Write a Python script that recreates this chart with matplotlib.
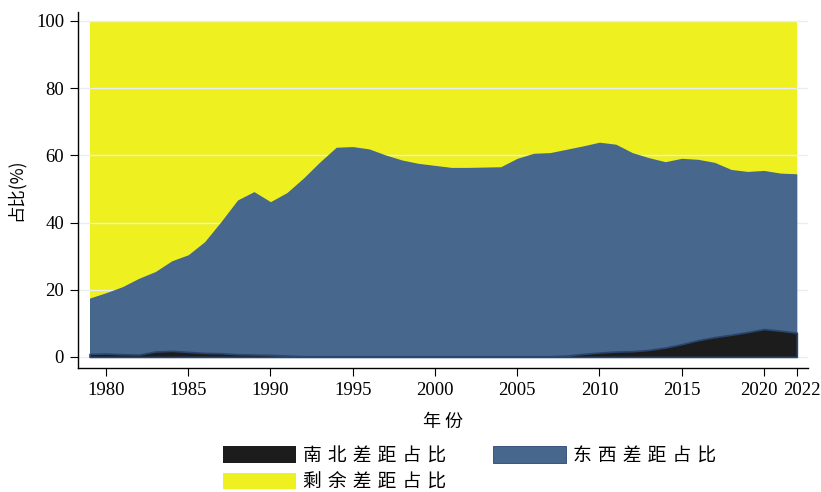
import numpy as np
import matplotlib
matplotlib.use('Agg')
import matplotlib.pyplot as plt
import matplotlib.transforms as mtransforms
from matplotlib.patches import Patch

# data (shares in %)
years = list(range(1979, 2023))
ns_share = [0.9, 1.0, 0.8, 0.7, 1.6, 1.8, 1.5, 1.2, 1.1, 0.8,
            0.7, 0.6, 0.4, 0.2, 0.2, 0.2, 0.2, 0.2, 0.2, 0.2,
            0.2, 0.2, 0.2, 0.2, 0.2, 0.2, 0.2, 0.2, 0.2, 0.4,
            0.9, 1.3, 1.6, 1.7, 2.1, 2.8, 3.8, 5.0, 5.9, 6.6,
            7.4, 8.3, 7.8, 7.2]
ew_share = [16.6, 18.1, 20.1, 22.7, 23.8, 26.8, 28.9, 33.1, 39.2, 45.9,
            48.5, 45.6, 48.5, 53.0, 57.8, 62.2, 62.4, 61.7, 59.9, 58.4,
            57.4, 56.8, 56.2, 56.2, 56.3, 56.4, 58.9, 60.4, 60.6, 61.4,
            61.9, 62.6, 61.7, 59.1, 57.2, 55.3, 55.3, 53.8, 52.0, 49.2,
            47.8, 47.2, 46.9, 47.3]
labels = ['南北差距占比', '东西差距占比', '剩余差距占比']
xticks = [1980, 1985, 1990, 1995, 2000, 2005, 2010, 2015, 2020, 2022]
yticks = [0, 20, 40, 60, 80, 100]

c_ns = '#1c1c1c'
c_ew = '#47678c'
c_rest = '#eef01f'
cjk = ['Noto Sans CJK SC', 'DejaVu Sans']

plt.rcParams.update({
    'font.family': ['Liberation Serif', 'Noto Sans CJK SC'],
    'font.size': 13,
    'axes.linewidth': 1.0,
    'xtick.direction': 'out',
    'ytick.direction': 'out',
    'xtick.major.size': 6,
    'ytick.major.size': 6,
})

x = np.array(years)
ns = np.array(ns_share)
ew = np.array(ew_share)
top = ns + ew

fig = plt.figure(figsize=(8.21, 4.92), dpi=100)
ax = fig.add_axes([0.095, 0.252, 0.889, 0.724])

ax.grid(axis='y', color='#e8edf1', linewidth=1.0, zorder=0)
ax.fill_between(x, 0, 100, color=c_rest, lw=0, zorder=1)
ax.fill_between(x, 0, top, color=c_ew, lw=0, zorder=2)
ax.fill_between(x, 0, ns, facecolor=c_ns, edgecolor='#2a4670', lw=1.2, zorder=3)

ax.set_xlim(1978.3, 2022.67)
ax.set_ylim(-3.3, 102.7)
ax.set_xticks(xticks)
ax.set_yticks(yticks)
ax.spines['top'].set_visible(False)
ax.spines['right'].set_visible(False)
ax.tick_params(axis='both', labelsize=13.5, pad=4)

# nudge the two crowded labels apart, like the reference
lbls = ax.get_xticklabels()
lbls[-2].set_transform(lbls[-2].get_transform() +
                       mtransforms.ScaledTranslation(-5 / 100, 0, fig.dpi_scale_trans))
lbls[-1].set_transform(lbls[-1].get_transform() +
                       mtransforms.ScaledTranslation(5 / 100, 0, fig.dpi_scale_trans))

ax.set_ylabel('占比(%)', fontsize=12.5, family=cjk, labelpad=8)
ax.set_xlabel('年 份', fontsize=13, family=cjk, labelpad=10)

sp = '\u2004'
handles = [Patch(facecolor=c_ns, edgecolor='none'),
           Patch(facecolor=c_rest, edgecolor='none'),
           Patch(facecolor=c_ew, edgecolor='#2a4670', lw=0.6)]
names = [sp.join(labels[0]), sp.join(labels[2]), sp.join(labels[1])]
fig.legend(handles, names, loc='upper left', bbox_to_anchor=(0.272, 0.095),
           ncol=2, frameon=False, borderpad=0, borderaxespad=0,
           handlelength=3.9, handleheight=1.0, handletextpad=0.35,
           labelspacing=0.28, columnspacing=2.5,
           prop={'family': cjk, 'size': 13.5})

fig.savefig('out.png', dpi=100)
